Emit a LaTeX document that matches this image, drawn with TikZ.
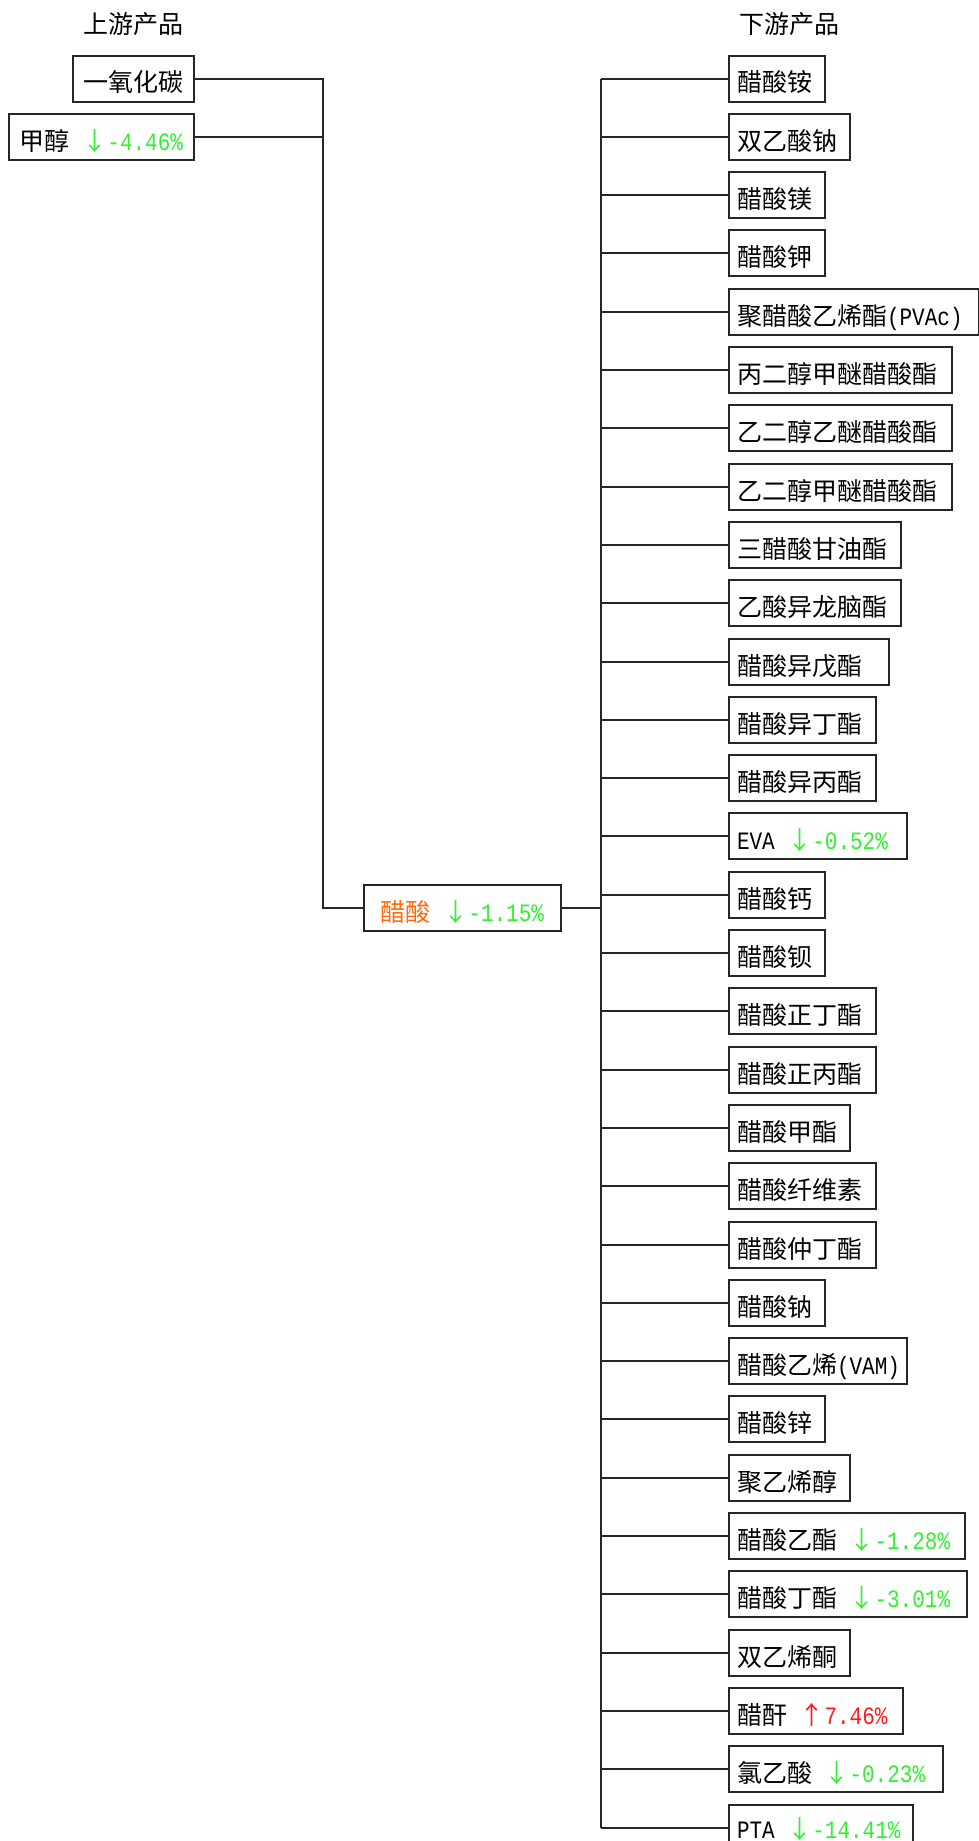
\documentclass[tikz,border=0pt]{standalone}
\usepackage{fontspec}
\setmainfont{Noto Sans CJK SC}
\newfontfamily\lat[FakeStretch=0.84]{Liberation Mono}
\definecolor{gr}{HTML}{33F033}
\definecolor{rd}{HTML}{FF1A1A}
\definecolor{og}{HTML}{FF6A10}
\newcommand\dnv[1]{\hspace{12.5pt}{\color{gr}↓\lat#1}}
\newcommand\upv[1]{\hspace{12.5pt}{\color{rd}↑\lat#1}}
\newcommand\drow[5][]{%
  \node[box, anchor=west, #1] (#2) at (728, {round(78.5+58.3*#3)}) {\makebox[\dimexpr#4pt-16pt\relax][l]{#5}};}
\begin{document}
\begin{tikzpicture}[x=1pt, y=-1pt,
  box/.style={draw=black!85, line width=2pt, inner xsep=8pt, inner ysep=0pt,
    minimum height=46pt, text height=26pt, text depth=0pt,
    font=\fontsize{25pt}{30pt}\selectfont},
  head/.style={inner sep=0pt, text height=26pt, text depth=0pt,
    font=\fontsize{25pt}{30pt}\selectfont},
  conn/.style={draw=black!85, line width=2pt}]
\useasboundingbox (0,0) rectangle (979,1841);
\fill[white] (0,0) rectangle (979,1841);
% headers
\node[head] (hup) at (133,20.5) {上游产品};
\node[head] (hdown) at (789,20.5) {下游产品};
% upstream
\node[box, anchor=east, minimum width=121pt] (co) at (195,79) {一氧化碳};
\node[box, anchor=east, minimum width=185pt] (me) at (195,137) {甲醇\dnv{-4.46\%}};
% centre
\node[box, anchor=west, minimum width=197pt] (ac) at (363,908) {{\color{og}醋酸}\dnv{-1.15\%}};
% downstream
\drow{d1}{0}{96}{醋酸铵}
\drow{d2}{1}{121}{双乙酸钠}
\drow{d3}{2}{96}{醋酸镁}
\drow{d4}{3}{96}{醋酸钾}
\drow{d5}{4}{250}{聚醋酸乙烯酯{\lat(PVAc)}}
\drow{d6}{5}{223}{丙二醇甲醚醋酸酯}
\drow{d7}{6}{223}{乙二醇乙醚醋酸酯}
\drow{d8}{7}{223}{乙二醇甲醚醋酸酯}
\drow{d9}{8}{172}{三醋酸甘油酯}
\drow{d10}{9}{172}{乙酸异龙脑酯}
\drow{d11}{10}{160}{醋酸异戊酯}
\drow{d12}{11}{147}{醋酸异丁酯}
\drow{d13}{12}{147}{醋酸异丙酯}
\drow{d14}{13}{178}{{\lat EVA}\dnv{-0.52\%}}
\drow{d15}{14}{96}{醋酸钙}
\drow{d16}{15}{96}{醋酸钡}
\drow{d17}{16}{147}{醋酸正丁酯}
\drow{d18}{17}{147}{醋酸正丙酯}
\drow{d19}{18}{121}{醋酸甲酯}
\drow{d20}{19}{147}{醋酸纤维素}
\drow{d21}{20}{147}{醋酸仲丁酯}
\drow{d22}{21}{96}{醋酸钠}
\drow{d23}{22}{178}{醋酸乙烯{\lat(VAM)}}
\drow{d24}{23}{96}{醋酸锌}
\drow{d25}{24}{121}{聚乙烯醇}
\drow{d26}{25}{236}{醋酸乙酯\dnv{-1.28\%}}
\drow{d27}{26}{238}{醋酸丁酯\dnv{-3.01\%}}
\drow{d28}{27}{121}{双乙烯酮}
\drow{d29}{28}{174}{醋酐\upv{7.46\%}}
\drow{d30}{29}{214}{氯乙酸\dnv{-0.23\%}}
\drow[text height=21pt]{d31}{30}{184}{{\lat PTA}\dnv{-14.41\%}}
% upstream connectors
\coordinate (uj) at (323,908);
\draw[conn] (co.east) -| (uj) -- (ac.west);
\draw[conn] (me.east) -- (uj |- me.east);
% downstream connectors
\coordinate (hub) at (601,908);
\draw[conn] (ac.east) -- (hub);
\draw[conn] (hub |- d1.west) -- (hub |- d31.west);
\foreach \i in {1,...,31} {\draw[conn] (hub |- d\i.west) -- (d\i.west);}
\end{tikzpicture}
\end{document}
